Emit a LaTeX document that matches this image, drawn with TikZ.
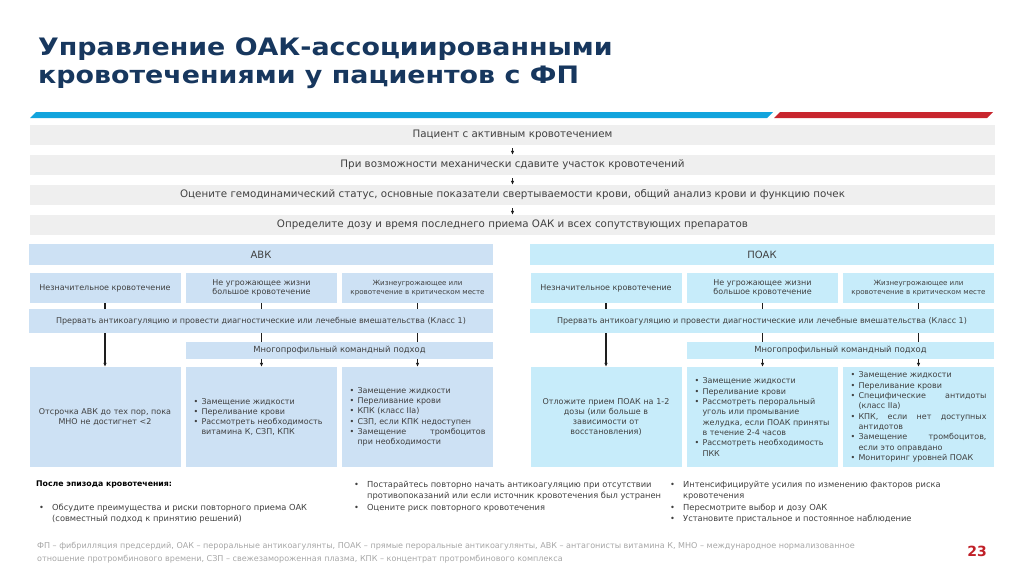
\documentclass[tikz,border=0pt]{standalone}
\usepackage{fontspec}
\setmainfont{DejaVu Sans}
\usepackage{tikz}
\usetikzlibrary{arrows.meta, positioning}
\definecolor{titlenavy}{RGB}{23, 55, 94}
\definecolor{stripeblue}{RGB}{18, 164, 221}
\definecolor{stripered}{RGB}{200, 38, 46}
\definecolor{greyfill}{RGB}{239, 239, 239}
\definecolor{avkfill}{RGB}{205, 225, 244}
\definecolor{poakfill}{RGB}{199, 236, 250}
\definecolor{textgrey}{RGB}{64, 64, 64}
\definecolor{footgrey}{RGB}{166, 166, 166}
\definecolor{linedark}{RGB}{30, 30, 30}
\definecolor{pagered}{RGB}{192, 32, 40}
\newcommand{\pitem}[2][8pt]{\hangindent=#1\hangafter=1\noindent\makebox[#1][l]{\textbullet}#2\par}

\begin{document}
\begin{tikzpicture}[x=1pt, y=-1pt, >={Latex[length=4pt,width=3.6pt]},
    greybox/.style={fill=greyfill, minimum width=965pt, minimum height=20pt, inner sep=0pt, text=textgrey, font=\fontsize{10.3}{12}\selectfont},
    headbox/.style={minimum width=464pt, minimum height=21pt, inner sep=0pt, text=textgrey, font=\fontsize{10}{12}\selectfont},
    casebox/.style={minimum width=151pt, minimum height=30pt, inner sep=0pt, align=center, text=textgrey, font=\fontsize{8}{9.6}\selectfont},
    stopbox/.style={minimum width=464pt, minimum height=24pt, inner sep=0pt, text=textgrey, font=\fontsize{8}{10}\selectfont},
    teambox/.style={minimum width=307pt, minimum height=17pt, inner sep=0pt, text=textgrey, font=\fontsize{8.4}{10}\selectfont},
    resbox/.style={minimum width=151pt, minimum height=100pt, inner xsep=7.5pt, inner ysep=0pt, text width=136pt, text=textgrey, font=\fontsize{8}{10.3}\selectfont},
    conn/.style={draw=linedark, line width=1.1pt},
    bottomtext/.style={anchor=north west, inner sep=0pt, align=flush left, text=textgrey, font=\fontsize{8.3}{11.5}\selectfont}]
    \useasboundingbox (0,0) rectangle (1024,574);

    \node[anchor=base west, inner sep=0pt, text=titlenavy, font=\fontsize{24}{28}\selectfont\bfseries] (title1) at (38,55) {\scalebox{1.12}[1]{Управление ОАК-ассоциированными}};
    \node[anchor=base west, inner sep=0pt, text=titlenavy, font=\fontsize{24}{28}\selectfont\bfseries] (title2) at (38,83) {\scalebox{1.12}[1]{кровотечениями у пациентов с ФП}};

    \fill[stripeblue] (30,118) -- (36,112) -- (773,112) -- (767,118) -- cycle;
    \fill[stripered] (774,118) -- (780,112) -- (993,112) -- (987,118) -- cycle;

    \node[greybox] (patient) at (512.5,135) {Пациент с активным кровотечением};
    \node[greybox] (compress) at (512.5,165) {При возможности механически сдавите участок кровотечений};
    \node[greybox] (assess) at (512.5,195) {Оцените гемодинамический статус, основные показатели свертываемости крови, общий анализ крови и функцию почек};
    \node[greybox] (lastdose) at (512.5,225) {Определите дозу и время последнего приема ОАК и всех сопутствующих препаратов};
    \draw[conn, ->, shorten <=3pt] (patient.south) -- (compress.north);
    \draw[conn, ->, shorten <=3pt] (compress.south) -- (assess.north);
    \draw[conn, ->, shorten <=3pt] (assess.south) -- (lastdose.north);

    \node[headbox, fill=avkfill] (avk) at (261,254.5) {АВК};
    \node[casebox, fill=avkfill] (avkMinor) at (105,288) {Незначительное кровотечение};
    \node[casebox, fill=avkfill] (avkMajor) at (261.5,288) {Не угрожающее жизни\\большое кровотечение};
    \node[casebox, fill=avkfill, font=\fontsize{7.1}{8.8}\selectfont] (avkLife) at (417.5,288) {Жизнеугрожающее или\\кровотечение в критическом месте};
    \node[stopbox, fill=avkfill] (avkStop) at (261,321) {Прервать антикоагуляцию и провести диагностические или лечебные вмешательства (Класс 1)};
    \node[teambox, fill=avkfill] (avkTeam) at (339.5,350.5) {Многопрофильный командный подход};
    \node[resbox, fill=avkfill, align=center] (avkDelay) at (105,417) {Отсрочка АВК до тех пор, пока\\МНО не достигнет <2};
    \node[resbox, fill=avkfill, align=flush left] (avkSupport) at (261.5,417) {\pitem{Замещение жидкости}\pitem{Переливание крови}\pitem{Рассмотреть необходимость\linebreak витамина К, СЗП, КПК}};
    \node[resbox, fill=avkfill, align=justify] (avkReverse) at (417.5,417) {\pitem{Замещение жидкости}\pitem{Переливание крови}\pitem{КПК (класс IIa)}\pitem{СЗП, если КПК недоступен}\pitem{Замещение тромбоцитов\linebreak при необходимости}};

    \draw[conn] (avkMinor.south) -- (avkMinor.south |- avkStop.north);
    \draw[conn] (avkMajor.south) -- (avkMajor.south |- avkStop.north);
    \draw[conn] (avkLife.south) -- (avkLife.south |- avkStop.north);
    \draw[conn, ->] (avkDelay.north |- avkStop.south) -- (avkDelay.north);
    \draw[conn] (avkSupport.north |- avkStop.south) -- (avkSupport.north |- avkTeam.north);
    \draw[conn] (avkReverse.north |- avkStop.south) -- (avkReverse.north |- avkTeam.north);
    \draw[conn, ->] (avkSupport.north |- avkTeam.south) -- (avkSupport.north);
    \draw[conn, ->] (avkReverse.north |- avkTeam.south) -- (avkReverse.north);

    \node[headbox, fill=poakfill] (poak) at (762,254.5) {ПОАК};
    \node[casebox, fill=poakfill] (poakMinor) at (606,288) {Незначительное кровотечение};
    \node[casebox, fill=poakfill] (poakMajor) at (762.5,288) {Не угрожающее жизни\\большое кровотечение};
    \node[casebox, fill=poakfill, font=\fontsize{7.1}{8.8}\selectfont] (poakLife) at (918.5,288) {Жизнеугрожающее или\\кровотечение в критическом месте};
    \node[stopbox, fill=poakfill] (poakStop) at (762,321) {Прервать антикоагуляцию и провести диагностические или лечебные вмешательства (Класс 1)};
    \node[teambox, fill=poakfill] (poakTeam) at (840.5,350.5) {Многопрофильный командный подход};
    \node[resbox, fill=poakfill, align=center] (poakDelay) at (606,417) {Отложите прием ПОАК на 1-2\\дозы (или больше в\\зависимости от\\восстановления)\\[8pt]};
    \node[resbox, fill=poakfill, align=flush left] (poakSupport) at (762.5,417) {\pitem{Замещение жидкости}\pitem{Переливание крови}\pitem{Рассмотреть пероральный\linebreak уголь или промывание\linebreak желудка, если ПОАК приняты\linebreak в течение 2-4 часов}\pitem{Рассмотреть необходимость\linebreak ПКК}};
    \node[resbox, fill=poakfill, align=justify] (poakReverse) at (918.5,417) {\pitem{Замещение жидкости}\pitem{Переливание крови}\pitem{Специфические антидоты\linebreak (класс IIa)}\pitem{КПК, если нет доступных\linebreak антидотов}\pitem{Замещение тромбоцитов,\linebreak если это оправдано}\pitem{Мониторинг уровней ПОАК}};

    \draw[conn] (poakMinor.south) -- (poakMinor.south |- poakStop.north);
    \draw[conn] (poakMajor.south) -- (poakMajor.south |- poakStop.north);
    \draw[conn] (poakLife.south) -- (poakLife.south |- poakStop.north);
    \draw[conn, ->] (poakDelay.north |- poakStop.south) -- (poakDelay.north);
    \draw[conn] (poakSupport.north |- poakStop.south) -- (poakSupport.north |- poakTeam.north);
    \draw[conn] (poakReverse.north |- poakStop.south) -- (poakReverse.north |- poakTeam.north);
    \draw[conn, ->] (poakSupport.north |- poakTeam.south) -- (poakSupport.north);
    \draw[conn, ->] (poakReverse.north |- poakTeam.south) -- (poakReverse.north);

    \node[bottomtext, text=black, font=\fontsize{7.8}{11.5}\selectfont\bfseries] (afterBleed) at (36,480.5) {После эпизода кровотечения:};
    \node[bottomtext, text width=300pt] (afterDiscuss) at (39,503.5) {\pitem[13pt]{Обсудите преимущества и риски повторного приема ОАК\linebreak (совместный подход к принятию решений)}};
    \node[bottomtext, text width=310pt] (afterRestart) at (354,480.5) {\pitem[13pt]{Постарайтесь повторно начать антикоагуляцию при отсутствии\linebreak противопоказаний или если источник кровотечения был устранен}\pitem[13pt]{Оцените риск повторного кровотечения}};
    \node[bottomtext, text width=320pt] (afterRisk) at (670,480.5) {\pitem[13pt]{Интенсифицируйте усилия по изменению факторов риска\linebreak кровотечения}\pitem[13pt]{Пересмотрите выбор и дозу ОАК}\pitem[13pt]{Установите пристальное и постоянное наблюдение}};

    \node[anchor=north west, inner sep=0pt, align=left, text=footgrey, font=\fontsize{8.05}{13}\selectfont] (abbrev) at (37,542) {ФП – фибрилляция предсердий, ОАК – пероральные антикоагулянты, ПОАК – прямые пероральные антикоагулянты, АВК – антагонисты витамина К, МНО – международное нормализованное\\отношение протромбинового времени, СЗП – свежезамороженная плазма, КПК – концентрат протромбинового комплекса};
    \node[text=pagered, inner sep=0pt, font=\fontsize{14}{16}\selectfont\bfseries] (pagenum) at (977,551) {23};
\end{tikzpicture}
\end{document}
